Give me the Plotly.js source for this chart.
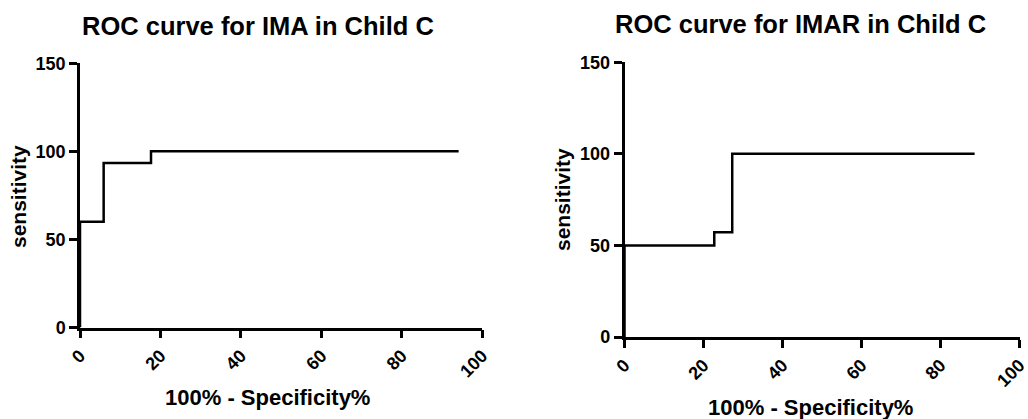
<!DOCTYPE html>
<html>
<head>
<meta charset="utf-8">
<script src="https://cdn.plot.ly/plotly-3.0.1.min.js"></script>
<style>html,body{margin:0;padding:0;background:#fff;}#chart{width:1028px;height:419px;}</style>
</head>
<body>
<div id="chart"></div>
<script>
// Left chart: IMA
const imaX = [0, 0, 5.88, 17.65, 94.12];
const imaY = [0, 60, 93.33, 100, 100];
// Right chart: IMAR
const imarX = [0, 0, 22.73, 27.27, 88.64];
const imarY = [0, 50, 57.14, 100, 100];

const titles = ["ROC curve for IMA in Child C", "ROC curve for IMAR in Child C"];
const xTitle = "100% - Specificity%";
const yTitle = "sensitivity";
const xTicks = [0, 20, 40, 60, 80, 100];
const yTicks = [0, 50, 100, 150];

const FONT = "Liberation Sans, Arial, sans-serif";
const W = 1028, H = 419;
const px = v => v / W;
const py = v => 1 - v / H;

const lineStyle = {color: '#000', width: 2.5, shape: 'hv'};
const traces = [
  {x: imaX, y: imaY, type: 'scatter', mode: 'lines', line: lineStyle, xaxis: 'x', yaxis: 'y', hoverinfo: 'skip'},
  {x: imarX, y: imarY, type: 'scatter', mode: 'lines', line: lineStyle, xaxis: 'x2', yaxis: 'y2', hoverinfo: 'skip'}
];

function xAxis(dom, anchor) {
  return {
    domain: dom, anchor: anchor, range: [0, 100], tickvals: xTicks,
    showline: true, linecolor: '#000', linewidth: 2.5, ticks: 'outside', ticklen: 8, tickwidth: 2.5, tickcolor: '#000',
    showgrid: false, zeroline: false, tickangle: -45, ticklabeloverflow: 'allow',
    tickfont: {family: FONT, size: 18, color: '#000', weight: 'bold'}
  };
}
function yAxis(dom, anchor) {
  return {
    domain: dom, anchor: anchor, range: [0, 150], tickvals: yTicks,
    showline: true, linecolor: '#000', linewidth: 2.5, ticks: 'outside', ticklen: 8, tickwidth: 2.5, tickcolor: '#000',
    showgrid: false, zeroline: false, ticklabeloverflow: 'allow',
    tickfont: {family: FONT, size: 18, color: '#000', weight: 'bold'}
  };
}

function ann(text, x, y, size, angle) {
  return {text: '<b>' + text + '</b>', x: px(x), y: py(y), xref: 'paper', yref: 'paper', showarrow: false,
    xanchor: 'center', yanchor: 'middle', textangle: angle || 0,
    font: {family: FONT, size: size, color: '#000'}};
}

const layout = {
  width: W, height: H,
  margin: {l: 0, r: 0, t: 0, b: 0},
  paper_bgcolor: '#fff', plot_bgcolor: '#fff',
  showlegend: false,
  xaxis: xAxis([px(80), px(482.3)], 'y'),
  yaxis: yAxis([py(327.5), py(63.3)], 'x'),
  xaxis2: xAxis([px(624.5), px(1019.5)], 'y2'),
  yaxis2: yAxis([py(337), py(62.3)], 'x2'),
  annotations: [
    ann(titles[0], 258, 26, 25.5),
    ann(titles[1], 800, 24, 25.5),
    ann(yTitle, 18, 197, 21, -90),
    ann(yTitle, 563, 200, 21, -90),
    ann(xTitle, 267, 397, 22),
    ann(xTitle, 810, 407, 22)
  ]
};

Plotly.newPlot('chart', traces, layout, {displayModeBar: false});
</script>
</body>
</html>
